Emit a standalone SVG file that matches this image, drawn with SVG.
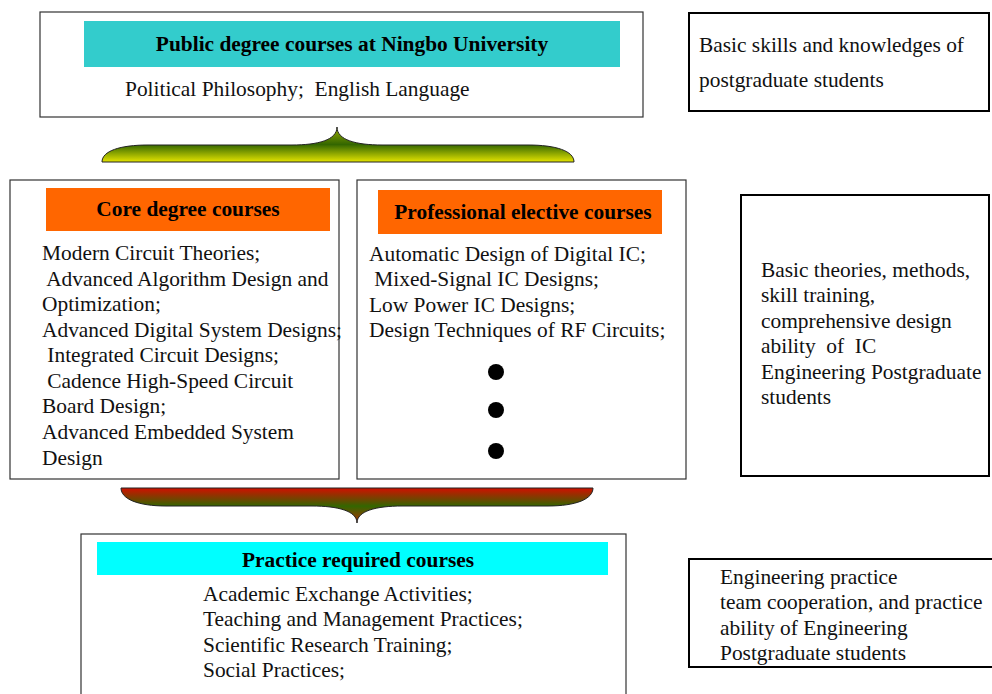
<svg xmlns="http://www.w3.org/2000/svg" width="992" height="694" viewBox="0 0 992 694">
  <style>
    .box { fill: #fff; stroke: #333; stroke-width: 1.2; }
    .sbox { fill: #fff; stroke: #000; stroke-width: 2; }
    .t { font-family: "Liberation Serif", "Times New Roman", serif; font-size: 21.4px; fill: #111; }
    .h { font-family: "Liberation Serif", "Times New Roman", serif; font-size: 21.4px; font-weight: bold; fill: #000; text-anchor: middle; }
    .brace { stroke: #222; stroke-width: 1; }
  </style>
  <defs>
    <linearGradient id="gYellow" x1="0" y1="127" x2="0" y2="162" gradientUnits="userSpaceOnUse">
      <stop offset="0" stop-color="#9aaa00"/>
      <stop offset="0.5" stop-color="#336600"/>
      <stop offset="1" stop-color="#e4e400"/>
    </linearGradient>
    <linearGradient id="gRed" x1="0" y1="488" x2="0" y2="523" gradientUnits="userSpaceOnUse">
      <stop offset="0" stop-color="#d01000"/>
      <stop offset="0.52" stop-color="#336600"/>
      <stop offset="1" stop-color="#b03000"/>
    </linearGradient>
  </defs>

  <rect width="992" height="694" fill="#fff"/>

  <!-- public degree courses -->
  <g id="public">
    <rect class="box" x="40" y="12" width="603" height="105"/>
    <rect x="84" y="21" width="536" height="46" fill="#33cccc"/>
    <text class="h" x="352" y="51">Public degree courses at Ningbo University</text>
    <text class="t" x="125" y="96" xml:space="preserve">Political Philosophy;  English Language</text>
  </g>

  <g id="basic-skills">
    <rect class="sbox" x="689" y="13" width="300" height="98"/>
    <text class="t" x="699" y="52">Basic skills and knowledges of</text>
    <text class="t" x="699" y="87">postgraduate students</text>
  </g>

  <!-- core degree courses -->
  <g id="core">
    <rect class="box" x="10" y="180" width="329" height="299"/>
    <rect x="46" y="188" width="284" height="43" fill="#ff6600"/>
    <text class="h" x="188" y="216">Core degree courses</text>
    <text class="t" x="42" y="260" xml:space="preserve">Modern Circuit Theories;</text>
    <text class="t" x="42" y="286" xml:space="preserve"> Advanced Algorithm Design and</text>
    <text class="t" x="42" y="311" xml:space="preserve">Optimization;</text>
    <text class="t" x="42" y="337" xml:space="preserve">Advanced Digital System Designs;</text>
    <text class="t" x="42" y="362" xml:space="preserve"> Integrated Circuit Designs;</text>
    <text class="t" x="42" y="388" xml:space="preserve"> Cadence High-Speed Circuit</text>
    <text class="t" x="42" y="413" xml:space="preserve">Board Design;</text>
    <text class="t" x="42" y="439" xml:space="preserve">Advanced Embedded System</text>
    <text class="t" x="42" y="465" xml:space="preserve">Design</text>
  </g>

  <!-- professional elective courses -->
  <g id="elective">
    <rect class="box" x="357" y="180" width="329" height="299"/>
    <rect x="378" y="190" width="284" height="44" fill="#ff6600"/>
    <text class="h" x="523" y="219">Professional elective courses</text>
    <text class="t" x="369" y="261" xml:space="preserve">Automatic Design of Digital IC;</text>
    <text class="t" x="369" y="286" xml:space="preserve"> Mixed-Signal IC Designs;</text>
    <text class="t" x="369" y="312" xml:space="preserve">Low Power IC Designs;</text>
    <text class="t" x="369" y="337" xml:space="preserve">Design Techniques of RF Circuits;</text>
    <circle cx="496" cy="372" r="8" fill="#000"/>
    <circle cx="496" cy="410" r="8" fill="#000"/>
    <circle cx="496" cy="451" r="8" fill="#000"/>
  </g>

  <g id="basic-theories">
    <rect class="sbox" x="741" y="195" width="248" height="281"/>
    <text class="t" x="761" y="277">Basic theories, methods,</text>
    <text class="t" x="761" y="302">skill training,</text>
    <text class="t" x="761" y="328">comprehensive design</text>
    <text class="t" x="761" y="353" xml:space="preserve">ability  of  IC</text>
    <text class="t" x="761" y="379">Engineering Postgraduate</text>
    <text class="t" x="761" y="404">students</text>
  </g>

  <!-- practice required courses -->
  <g id="practice">
    <rect class="box" x="81" y="534" width="545" height="170"/>
    <rect x="97" y="542" width="511" height="33" fill="#00ffff"/>
    <text class="h" x="358" y="567">Practice required courses</text>
    <text class="t" x="203" y="601">Academic Exchange Activities;</text>
    <text class="t" x="203" y="626">Teaching and Management Practices;</text>
    <text class="t" x="203" y="652">Scientific Research Training;</text>
    <text class="t" x="203" y="677">Social Practices;</text>
  </g>

  <g id="engineering-practice">
    <rect class="sbox" x="689" y="559" width="310" height="108"/>
    <text class="t" x="720" y="584">Engineering practice</text>
    <text class="t" x="720" y="609">team cooperation, and practice</text>
    <text class="t" x="720" y="635">ability of Engineering</text>
    <text class="t" x="720" y="660">Postgraduate students</text>
  </g>

  <!-- brace connectors -->
  <g id="connectors">
    <path class="brace" fill="url(#gYellow)" d="M102,162 L574,162 C574,151 556,145 528,145 L382,145 C356,145 337,140 337,127 C337,140 318,145 292,145 L148,145 C120,145 102,151 102,162 Z"/>
    <path class="brace" fill="url(#gRed)" d="M121,488 L593,488 C593,499 576,506 548,506 L402,506 C376,506 357,511 357,523 C357,511 338,506 312,506 L166,506 C138,506 121,499 121,488 Z"/>
  </g>
</svg>
